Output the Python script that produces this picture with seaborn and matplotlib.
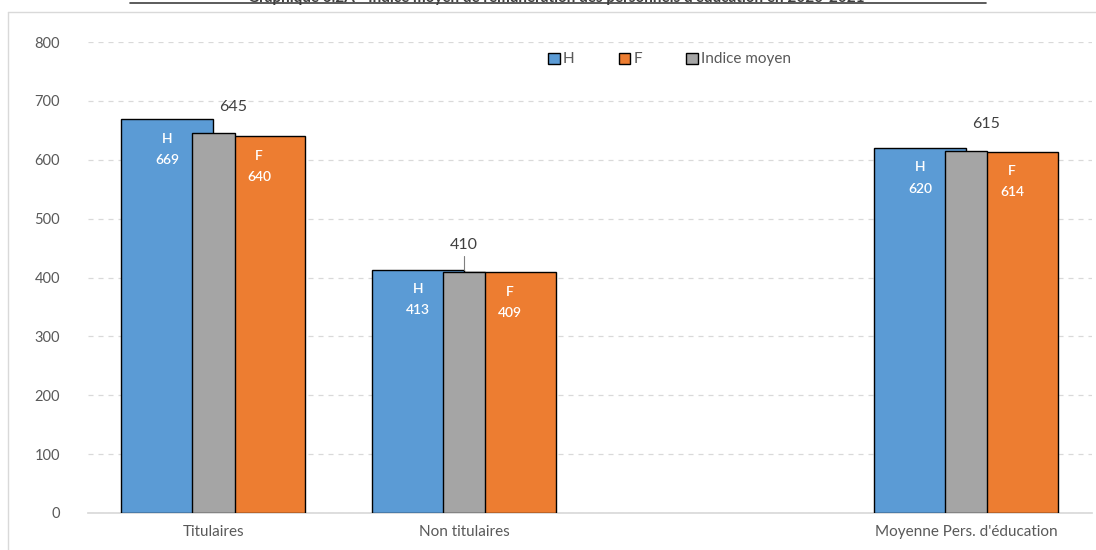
import pandas as pd
import seaborn as sns
import matplotlib.pyplot as plt
from matplotlib.patches import Patch
from matplotlib.lines import Line2D

# data
categories = ["Titulaires", "Non titulaires", " ", "Moyenne Pers. d'éducation"]
groups = ["Titulaires", "Non titulaires", "Moyenne Pers. d'éducation"]
h_values = [669, 413, 620]
f_values = [640, 409, 614]
mean_values = [645, 410, 615]
title = "Graphique 6.2A - Indice moyen de rémunération des personnels d'éducation en 2020-2021"

blue, orange, grey = "#5B9BD5", "#ED7D31", "#A5A5A5"
txt = "#595959"

sns.set_theme(style="white")
plt.rcParams['font.family'] = ['Lato', 'DejaVu Sans']

hf = pd.DataFrame({
    "cat": groups * 2,
    "sexe": ["H"] * 3 + ["F"] * 3,
    "val": h_values + f_values,
})
moy = pd.DataFrame({"cat": groups, "val": mean_values})

fig = plt.figure(figsize=(10.96, 5.5), dpi=100)
ax = fig.add_axes([0.080, 0.0673, 0.916, 0.8563])

sns.barplot(data=hf, x="cat", y="val", hue="sexe", order=categories,
            hue_order=["H", "F"], palette=[blue, orange], saturation=1,
            width=0.734, gap=0, edgecolor="black", linewidth=1,
            legend=False, ax=ax, zorder=3)
sns.barplot(data=moy, x="cat", y="val", order=categories, color=grey,
            saturation=1, width=0.17, edgecolor="black", linewidth=1,
            ax=ax, zorder=4)

ax.set_ylim(0, 800)
ax.set_xlim(-0.5, 3.5)
ax.set_yticks(range(0, 801, 100))
ax.yaxis.grid(True, ls=(0, (4, 4)), color="#D9D9D9", lw=0.9, zorder=0)
ax.set_xlabel("")
ax.set_ylabel("")
for s in ["top", "right", "left"]:
    ax.spines[s].set_visible(False)
ax.spines["bottom"].set_color("#D9D9D9")
ax.tick_params(axis="both", length=0, labelsize=10.5, labelcolor=txt)
ax.tick_params(axis="x", labelsize=11)
ax.tick_params(axis="y", pad=20)
ax.tick_params(axis="x", pad=9)

# labels inside the bars
pos = {c: i for i, c in enumerate(categories)}
bw = 0.367
for c, h, f in zip(groups, h_values, f_values):
    x = pos[c]
    for xv, lab, v in [(x - bw / 2, "H", h), (x + bw / 2, "F", f)]:
        ax.text(xv, v - 33, lab, ha="center", va="center", color="white",
                fontsize=10, fontweight="semibold", zorder=6)
        ax.text(xv, v - 69, str(v), ha="center", va="center", color="white",
                fontsize=10, fontweight="semibold", zorder=6)

# mean labels above grey bars
dx = [0.08, 0.0, 0.08]
for c, m, d in zip(groups, mean_values, dx):
    x = pos[c]
    ax.text(x + d, m + 45, str(m), ha="center", va="center", color="#404040",
            fontsize=11.5, zorder=6)
    if d == 0:
        ax.plot([x, x], [m + 2, m + 27], color="#7F7F7F", lw=0.8, zorder=5)

handles = [Patch(facecolor=blue, edgecolor="black", label="H"),
           Patch(facecolor=orange, edgecolor="black", label="F"),
           Patch(facecolor=grey, edgecolor="black", label="Indice moyen")]
ax.legend(handles=handles, loc="upper left", bbox_to_anchor=(0.445, 1.007),
          ncol=3, frameon=False, fontsize=11, labelcolor=txt,
          handlelength=0.75, handleheight=0.75, handletextpad=0.2,
          columnspacing=2.9)

# chart frame and clipped title
fig.add_artist(Line2D([8 / 1096, 8 / 1096], [0, 1 - 12 / 550],
                      color="#D9D9D9", lw=1))
fig.add_artist(Line2D([8 / 1096, 1], [1 - 12 / 550, 1 - 12 / 550],
                      color="#D9D9D9", lw=1))
fig.text(0.508, 1.004, title, ha="center", va="center", fontsize=11,
         fontweight="bold", color="#404040")
fig.add_artist(Line2D([130 / 1096, 986 / 1096], [1 - 3 / 550, 1 - 3 / 550],
                      color="#404040", lw=1.2))

fig.savefig("out.png", dpi=100)
